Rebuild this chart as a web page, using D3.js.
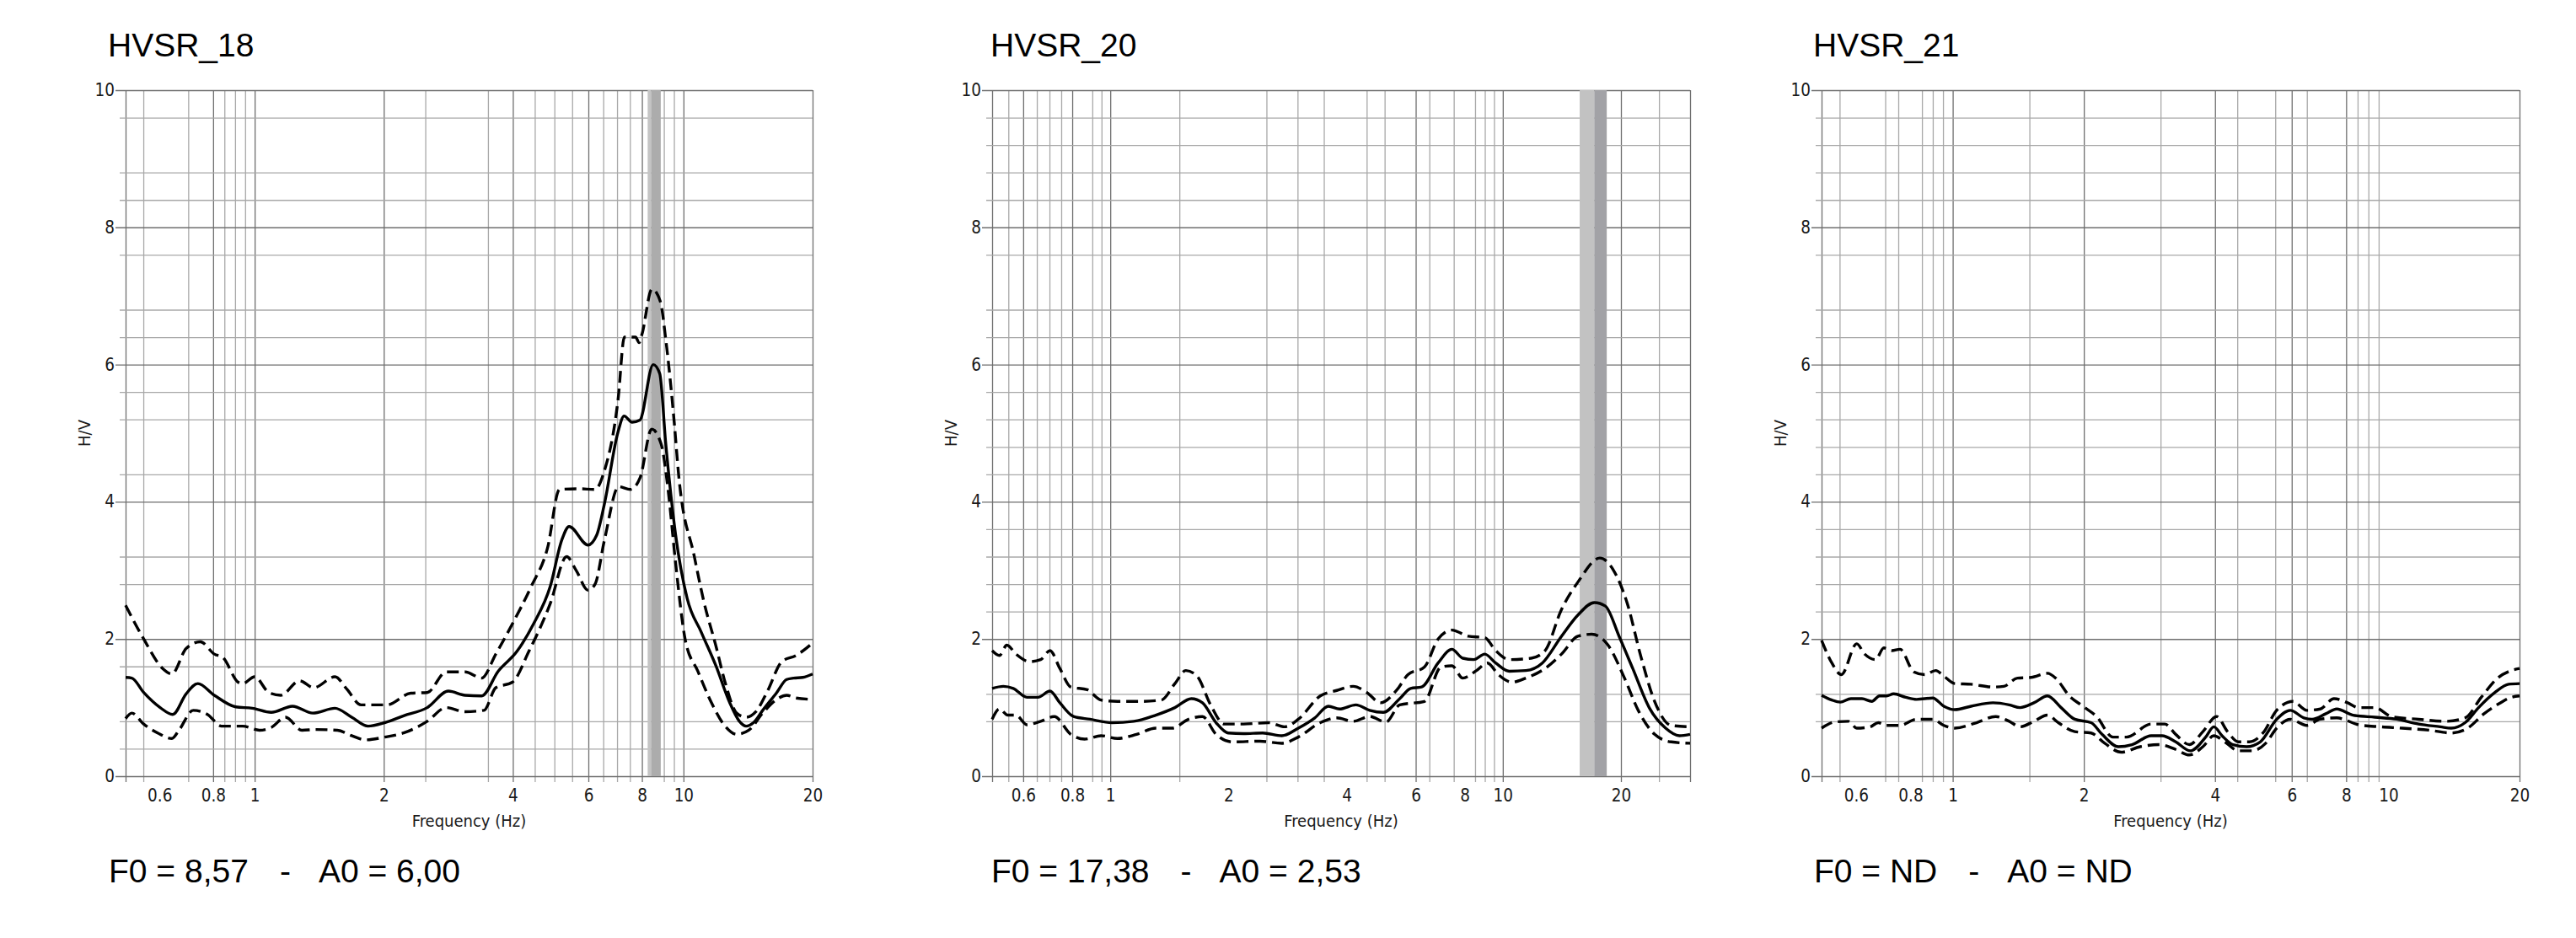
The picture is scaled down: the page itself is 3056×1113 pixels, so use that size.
<!DOCTYPE html>
<html>
<head>
<meta charset="utf-8">
<script src="https://cdn.jsdelivr.net/npm/d3@7"></script>
<style>
  body { margin: 0; background: #fff; }
  svg { display: block; }
</style>
</head>
<body>
<svg id="chart" width="3056" height="1113"></svg>
<script>
'use strict';

// ---- HVSR_18 ----
const hv18Mean = [[0.5,1.44],[0.517,1.43],[0.551,1.22],[0.602,1.0],[0.644,0.90],[0.692,1.20],[0.737,1.35],[0.805,1.18],[0.903,1.01],[0.987,0.99],[1.093,0.93],[1.225,1.02],[1.366,0.92],[1.539,0.99],[1.683,0.86],[1.839,0.73],[2.01,0.78],[2.225,0.88],[2.526,1.0],[2.83,1.24],[3.095,1.18],[3.383,1.17],[3.697,1.53],[4.09,1.82],[4.47,2.22],[4.886,2.76],[5.207,3.45],[5.41,3.64],[5.99,3.37],[6.27,3.51],[6.545,3.98],[7.03,5.01],[7.27,5.25],[7.59,5.16],[7.91,5.19],[8.5,6.0],[8.8,5.87],[9.09,4.85],[9.58,3.53],[10.2,2.59],[11.0,2.10],[11.9,1.61],[12.8,1.08],[13.5,0.80],[14.0,0.73],[14.56,0.78],[15.3,0.96],[16.5,1.22],[17.4,1.41],[18.06,1.43],[18.97,1.44],[20,1.49]];
const hv18Upper = [[0.5,2.49],[0.551,2.0],[0.610,1.57],[0.641,1.49],[0.692,1.86],[0.747,1.96],[0.805,1.78],[0.843,1.73],[0.915,1.37],[0.938,1.35],[1.0,1.45],[1.079,1.22],[1.150,1.18],[1.273,1.39],[1.373,1.29],[1.539,1.45],[1.640,1.27],[1.770,1.04],[2.036,1.04],[2.311,1.21],[2.526,1.22],[2.796,1.52],[3.095,1.52],[3.383,1.43],[3.65,1.78],[3.99,2.22],[4.41,2.76],[4.82,3.33],[5.14,4.18],[5.69,4.19],[6.22,4.18],[6.53,4.44],[7.04,5.50],[7.28,6.40],[7.73,6.40],[7.88,6.32],[8.0,6.44],[8.44,7.10],[8.83,6.92],[9.09,6.37],[9.52,5.14],[9.74,4.40],[10.6,3.2],[11.15,2.55],[11.9,1.90],[12.5,1.37],[13.3,0.92],[14.0,0.86],[14.75,0.94],[15.7,1.24],[16.95,1.67],[18.3,1.76],[20,1.94]];
const hv18Lower = [[0.5,0.84],[0.517,0.92],[0.551,0.76],[0.594,0.63],[0.641,0.55],[0.666,0.67],[0.719,0.96],[0.776,0.90],[0.837,0.73],[0.938,0.73],[1.026,0.67],[1.093,0.71],[1.180,0.86],[1.289,0.67],[1.391,0.68],[1.559,0.67],[1.683,0.59],[1.816,0.53],[2.01,0.57],[2.225,0.63],[2.526,0.80],[2.796,1.0],[3.095,0.94],[3.425,0.96],[3.65,1.29],[3.99,1.37],[4.36,1.82],[4.886,2.51],[5.34,3.2],[5.62,3.0],[5.99,2.71],[6.22,2.80],[6.545,3.45],[7.06,4.22],[7.52,4.18],[7.92,4.35],[8.43,5.06],[8.87,4.84],[9.22,4.14],[9.58,3.12],[10.1,1.98],[10.8,1.53],[11.6,1.08],[12.5,0.73],[13.3,0.61],[14.2,0.67],[15.3,0.92],[16.5,1.12],[17.4,1.18],[18.3,1.14],[20,1.12]];
const hv18Band = [[8.25, 8.4, "#c4c4c4"], [8.4, 8.85, "#acacac"]];
const hv18GridF = [0.5,0.55,0.7,0.8,0.85,0.9,0.95,1,2,2.5,3.5,4,4.5,5,5.5,6,6.5,7,7.5,8,9,9.5,10,20];
const hv18GridHV = [0.4,0.8,1.6,2.8,3.2,4.4,5.2,5.6,6.4,6.8,7.6,8.4,8.8,9.6];

// ---- HVSR_20 ----
const hv20Mean = [[0.5,1.28],[0.534,1.31],[0.566,1.28],[0.613,1.15],[0.654,1.15],[0.702,1.24],[0.744,1.07],[0.806,0.87],[0.888,0.83],[1.01,0.78],[1.148,0.80],[1.306,0.89],[1.461,1.0],[1.609,1.13],[1.717,1.07],[1.860,0.78],[1.997,0.63],[2.184,0.62],[2.445,0.63],[2.736,0.59],[3.013,0.70],[3.319,0.85],[3.596,1.02],[3.836,0.98],[4.224,1.04],[4.578,0.96],[4.961,0.93],[5.463,1.13],[5.825,1.28],[6.213,1.30],[6.842,1.65],[7.417,1.85],[7.907,1.72],[8.433,1.70],[8.994,1.78],[9.590,1.65],[10.39,1.53],[11.45,1.54],[12.61,1.65],[14.11,2.04],[15.54,2.35],[17.11,2.53],[18.25,2.48],[19.78,2.04],[21.43,1.57],[23.6,1.0],[25.99,0.70],[28.17,0.59],[30,0.61]];
const hv20Upper = [[0.5,1.83],[0.522,1.76],[0.545,1.91],[0.575,1.78],[0.623,1.67],[0.665,1.70],[0.702,1.83],[0.744,1.57],[0.793,1.30],[0.874,1.26],[0.947,1.11],[1.043,1.09],[1.186,1.09],[1.349,1.11],[1.461,1.35],[1.558,1.54],[1.663,1.46],[1.801,1.04],[1.952,0.76],[2.184,0.76],[2.525,0.78],[2.781,0.72],[3.013,0.83],[3.427,1.17],[3.774,1.25],[4.157,1.31],[4.505,1.22],[4.882,1.07],[5.376,1.26],[5.732,1.48],[6.314,1.59],[6.842,2.0],[7.417,2.13],[8.166,2.04],[8.994,2.02],[9.590,1.83],[10.39,1.70],[11.82,1.72],[12.81,1.83],[14.11,2.43],[15.54,2.83],[17.67,3.18],[19.15,3.0],[20.75,2.52],[22.49,1.74],[24.37,1.09],[26.84,0.74],[30,0.72]];
const hv20Lower = [[0.5,0.83],[0.522,0.98],[0.548,0.89],[0.575,0.89],[0.613,0.75],[0.665,0.80],[0.720,0.87],[0.793,0.61],[0.860,0.54],[0.947,0.59],[1.043,0.55],[1.167,0.61],[1.306,0.70],[1.438,0.70],[1.584,0.83],[1.717,0.87],[1.860,0.61],[2.049,0.50],[2.406,0.51],[2.736,0.48],[3.013,0.57],[3.427,0.78],[3.774,0.85],[4.157,0.80],[4.578,0.87],[5.041,0.79],[5.463,1.04],[6.314,1.09],[6.953,1.59],[7.417,1.61],[7.907,1.43],[8.570,1.54],[9.140,1.65],[9.745,1.48],[10.56,1.37],[11.45,1.43],[12.81,1.57],[14.11,1.78],[15.54,2.04],[16.84,2.07],[18.54,1.91],[20.42,1.43],[22.13,0.96],[24.37,0.61],[26.84,0.50],[30,0.48]];
const hv20Band = [[15.7, 17.1, "#c2c2c2"], [17.1, 18.4, "#a2a2a6"]];
const hv20GridF = [0.5,0.55,0.6,0.65,0.7,0.75,0.8,0.9,0.95,1,1.5,2.5,3,3.5,4.5,5,6,6.5,7.5,8.5,9,9.5,10,20,25,30];
const hv20GridHV = [0.8,1.2,2.4,2.8,3.2,3.6,4.4,4.8,5.2,5.6,6.4,6.8,7.6,8.4,8.8,9.2,9.6];

// ---- HVSR_21 ----
const hv21Mean = [[0.5,1.18],[0.528,1.11],[0.552,1.08],[0.584,1.13],[0.619,1.13],[0.652,1.09],[0.679,1.17],[0.705,1.17],[0.732,1.20],[0.780,1.15],[0.826,1.12],[0.900,1.14],[0.954,1.02],[1.011,0.97],[1.102,1.02],[1.237,1.07],[1.348,1.04],[1.428,1.0],[1.536,1.07],[1.650,1.17],[1.773,1.0],[1.906,0.83],[2.078,0.78],[2.202,0.61],[2.400,0.43],[2.580,0.46],[2.854,0.59],[3.024,0.59],[3.250,0.50],[3.513,0.37],[3.807,0.57],[3.975,0.72],[4.151,0.59],[4.399,0.46],[4.729,0.43],[5.081,0.50],[5.541,0.83],[5.955,0.96],[6.400,0.85],[6.683,0.83],[7.184,0.91],[7.611,0.98],[8.297,0.89],[9.311,0.86],[10.45,0.83],[11.73,0.76],[13.16,0.72],[13.94,0.70],[15.0,0.78],[16.11,1.0],[17.56,1.22],[18.88,1.34],[20,1.35]];
const hv21Upper = [[0.5,1.98],[0.528,1.65],[0.555,1.48],[0.602,1.93],[0.628,1.78],[0.665,1.70],[0.695,1.87],[0.725,1.83],[0.757,1.85],[0.814,1.52],[0.862,1.48],[0.914,1.54],[0.954,1.46],[1.011,1.35],[1.102,1.34],[1.237,1.30],[1.310,1.31],[1.408,1.43],[1.514,1.44],[1.650,1.50],[1.723,1.43],[1.852,1.17],[1.990,1.02],[2.139,0.87],[2.332,0.57],[2.506,0.57],[2.854,0.76],[3.067,0.76],[3.250,0.61],[3.493,0.46],[3.752,0.65],[4.033,0.87],[4.273,0.65],[4.528,0.50],[4.798,0.50],[5.155,0.63],[5.541,0.96],[6.042,1.09],[6.494,0.96],[6.979,0.98],[7.502,1.13],[8.062,1.07],[8.541,1.0],[9.311,1.0],[10.15,0.87],[11.73,0.83],[13.55,0.80],[15.0,0.85],[16.34,1.15],[17.82,1.43],[19.15,1.54],[20,1.57]];
const hv21Lower = [[0.5,0.70],[0.536,0.79],[0.576,0.80],[0.602,0.70],[0.646,0.72],[0.675,0.78],[0.705,0.74],[0.757,0.74],[0.826,0.83],[0.900,0.83],[0.954,0.74],[1.011,0.70],[1.134,0.78],[1.255,0.87],[1.348,0.80],[1.428,0.72],[1.536,0.80],[1.650,0.89],[1.748,0.78],[1.906,0.65],[2.078,0.63],[2.233,0.48],[2.435,0.35],[2.694,0.43],[2.981,0.46],[3.250,0.39],[3.493,0.31],[3.752,0.43],[3.975,0.59],[4.211,0.50],[4.528,0.37],[4.867,0.37],[5.230,0.48],[5.541,0.70],[5.955,0.83],[6.494,0.74],[6.979,0.83],[7.611,0.85],[8.541,0.75],[9.584,0.72],[10.76,0.70],[12.43,0.67],[13.94,0.63],[15.21,0.70],[16.58,0.91],[18.08,1.07],[19.15,1.15],[20,1.17]];
const hv21Band = [];
const hv21GridF = [0.5,0.55,0.7,0.75,0.85,0.9,0.95,1,1.5,2,3,4,4.5,5.5,6,6.5,8,8.5,9,9.5,20];
const hv21GridHV = [0.8,1.2,2.4,2.8,3.2,3.6,4.4,4.8,5.2,5.6,6.4,6.8,7.6,8.4,8.8,9.2,9.6];

const freqTicks = [0.6, 0.8, 1, 2, 4, 6, 8, 10, 20];
const hvTicks = [0, 2, 4, 6, 8, 10];
const titles = ["HVSR_18", "HVSR_20", "HVSR_21"];
const f0Texts = ["F0 = 8,57", "F0 = 17,38", "F0 = ND"];
const a0Texts = ["A0 = 6,00", "A0 = 2,53", "A0 = ND"];

const panels = [
  { left: 149,  right: 964,  fMax: 20, textX: 128,  mean: hv18Mean, upper: hv18Upper, lower: hv18Lower, band: hv18Band, gridF: hv18GridF, gridHV: hv18GridHV },
  { left: 1177, right: 2005, fMax: 30, textX: 1175, mean: hv20Mean, upper: hv20Upper, lower: hv20Lower, band: hv20Band, gridF: hv20GridF, gridHV: hv20GridHV },
  { left: 2161, right: 2989, fMax: 20, textX: 2151, mean: hv21Mean, upper: hv21Upper, lower: hv21Lower, band: hv21Band, gridF: hv21GridF, gridHV: hv21GridHV }
];

const plotTop = 107, plotBottom = 921;
const svg = d3.select("#chart");
const tickFont = "'DejaVu Sans Condensed', 'DejaVu Sans', sans-serif";
const bigFont = "'Liberation Sans', Arial, sans-serif";
const majorGrid = "#6f6f6f", minorGrid = "#a8a8a8";

panels.forEach((p, i) => {
  const g = svg.append("g");
  const x = d3.scaleLog().domain([0.5, p.fMax]).range([p.left, p.right]);
  const y = d3.scaleLinear().domain([0, 10]).range([plotBottom, plotTop]);
  const w = p.right - p.left;

  // vertical grid (runs 7px below the axis as ticks)
  const vMajor = p.gridF.filter(f => freqTicks.includes(f) || f === 0.5 || f === p.fMax);
  const vMinor = p.gridF.filter(f => !vMajor.includes(f));
  [[vMinor, minorGrid], [vMajor, majorGrid]].forEach(([vals, col]) => {
    g.append("g")
      .attr("transform", `translate(0,${plotBottom + 7})`)
      .call(d3.axisBottom(x).tickValues(vals).tickSize(-(plotBottom - plotTop + 7)).tickFormat(""))
      .call(a => a.select(".domain").remove())
      .call(a => a.selectAll("line").attr("stroke", col).attr("stroke-width", 1.3));
  });

  // horizontal grid
  g.append("g")
    .attr("transform", `translate(${p.left - 7},0)`)
    .call(d3.axisLeft(y).tickValues(p.gridHV).tickSize(-(w + 7)).tickFormat(""))
    .call(a => a.select(".domain").remove())
    .call(a => a.selectAll("line").attr("stroke", minorGrid).attr("stroke-width", 1.3));
  g.append("g")
    .attr("transform", `translate(${p.left - 12},0)`)
    .call(d3.axisLeft(y).tickValues(hvTicks).tickSize(-(w + 12)).tickFormat(""))
    .call(a => a.select(".domain").remove())
    .call(a => a.selectAll("line").attr("stroke", majorGrid).attr("stroke-width", 1.4));

  // F0 band
  g.selectAll("rect.band")
    .data(p.band)
    .enter().append("rect")
    .attr("class", "band")
    .attr("x", d => x(d[0]))
    .attr("width", d => x(d[1]) - x(d[0]))
    .attr("y", plotTop)
    .attr("height", plotBottom - plotTop)
    .attr("fill", d => d[2]);

  // tick labels
  g.append("g")
    .attr("transform", `translate(0,${plotBottom})`)
    .call(d3.axisBottom(x).tickValues(freqTicks.filter(f => f <= p.fMax)).tickSize(0).tickPadding(15).tickFormat(d3.format("~g")))
    .call(a => a.select(".domain").remove())
    .call(a => a.selectAll("text").attr("font-family", tickFont).attr("font-size", 20.5).attr("fill", "#1a1a1a"));

  g.append("g")
    .attr("transform", `translate(${p.left},0)`)
    .call(d3.axisLeft(y).tickValues(hvTicks).tickSize(0).tickPadding(13))
    .call(a => a.select(".domain").remove())
    .call(a => a.selectAll("text").attr("font-family", tickFont).attr("font-size", 20.5).attr("fill", "#1a1a1a"));

  g.append("text")
    .attr("x", (p.left + p.right) / 2)
    .attr("y", 981)
    .attr("text-anchor", "middle")
    .attr("font-family", tickFont)
    .attr("font-size", 20)
    .attr("fill", "#1a1a1a")
    .text("Frequency (Hz)");

  g.append("text")
    .attr("transform", `translate(${p.left - 42},${(plotTop + plotBottom) / 2}) rotate(-90)`)
    .attr("text-anchor", "middle")
    .attr("font-family", tickFont)
    .attr("font-size", 20)
    .attr("fill", "#1a1a1a")
    .text("H/V");

  // curves
  const line = d3.line()
    .x(d => x(d[0]))
    .y(d => y(d[1]))
    .curve(d3.curveMonotoneX);

  [p.upper, p.lower].forEach(arr => {
    g.append("path")
      .datum(arr)
      .attr("fill", "none")
      .attr("stroke", "#000")
      .attr("stroke-width", 3.4)
      .attr("stroke-dasharray", "14,7")
      .attr("d", line);
  });
  g.append("path")
    .datum(p.mean)
    .attr("fill", "none")
    .attr("stroke", "#000")
    .attr("stroke-width", 3.4)
    .attr("d", line);

  // title and result line
  g.append("text")
    .attr("x", p.textX)
    .attr("y", 67)
    .attr("font-family", bigFont)
    .attr("font-size", 39)
    .attr("fill", "#000")
    .text(titles[i]);

  const foot = g.append("text")
    .attr("x", p.textX + 1)
    .attr("y", 1047)
    .attr("font-family", bigFont)
    .attr("font-size", 39)
    .attr("fill", "#000");
  foot.append("tspan").text(f0Texts[i]);
  foot.append("tspan").attr("dx", 37).text("-");
  foot.append("tspan").attr("dx", 33).text(a0Texts[i]);
});
</script>
</body>
</html>
